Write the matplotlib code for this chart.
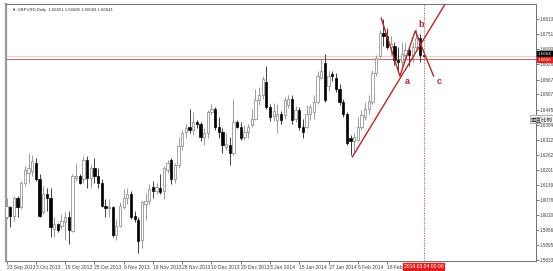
#!/usr/bin/env python3

import numpy as np
import matplotlib.pyplot as plt
from matplotlib.transforms import blended_transform_factory

# daily GBPUSD bars, 23 Sep 2013 .. 4 Mar 2014
opens = [1.6007, 1.6047, 1.6014, 1.6087, 1.6047, 1.6147, 1.6187, 1.6194, 1.6228, 1.6161,
         1.6027, 1.6101, 1.6087, 1.5960, 1.5978, 1.5973, 1.5987, 1.6007, 1.5953, 1.6167,
         1.6174, 1.6161, 1.6241, 1.6167, 1.6207, 1.6174, 1.6147, 1.6054, 1.6043, 1.6047,
         1.5933, 1.5973, 1.6047, 1.6087, 1.6101, 1.6014, 1.5996, 1.5914, 1.6061, 1.6074,
         1.6128, 1.6114, 1.6124, 1.6114, 1.6201, 1.6241, 1.6161, 1.6221, 1.6295, 1.6352,
         1.6375, 1.6362, 1.6395, 1.6388, 1.6335, 1.6348, 1.6435, 1.6448, 1.6375, 1.6355,
         1.6291, 1.6301, 1.6268, 1.6395, 1.6375, 1.6335, 1.6355, 1.6382, 1.6408, 1.6482,
         1.6502, 1.6555, 1.6455, 1.6420, 1.6401, 1.6428, 1.6422, 1.6462, 1.6488, 1.6408,
         1.6442, 1.6375, 1.6375, 1.6428, 1.6435, 1.6475, 1.6575, 1.6635, 1.6542, 1.6589,
         1.6575, 1.6528, 1.6475, 1.6428, 1.6328, 1.6315, 1.6322, 1.6375, 1.6415, 1.6448,
         1.6475, 1.6595, 1.6662, 1.6755, 1.6745, 1.6700, 1.6705, 1.6645, 1.6640, 1.6665,
         1.6688, 1.6665, 1.6700, 1.6735, 1.66651]
highs = [1.6087, 1.6054, 1.6094, 1.6094, 1.6154, 1.6214, 1.6268, 1.6261, 1.6248, 1.6181,
         1.6134, 1.6127, 1.6127, 1.6007, 1.5985, 1.6020, 1.6027, 1.6034, 1.6181, 1.6228,
         1.6181, 1.6254, 1.6254, 1.6221, 1.6248, 1.6207, 1.6161, 1.6080, 1.6080, 1.6054,
         1.6000, 1.6067, 1.6121, 1.6127, 1.6114, 1.6034, 1.6007, 1.6074, 1.6107, 1.6141,
         1.6154, 1.6148, 1.6181, 1.6214, 1.6241, 1.6248, 1.6228, 1.6335, 1.6362, 1.6388,
         1.6448, 1.6435, 1.6402, 1.6395, 1.6368, 1.6442, 1.6468, 1.6455, 1.6415, 1.6368,
         1.6348, 1.6335, 1.6489, 1.6402, 1.6395, 1.6382, 1.6388, 1.6448, 1.6529, 1.6535,
         1.6582, 1.6622, 1.6468, 1.6470, 1.6468, 1.6440, 1.6495, 1.6505, 1.6502, 1.6460,
         1.6455, 1.6408, 1.6462, 1.6468, 1.6502, 1.6602, 1.6649, 1.6669, 1.6600, 1.6602,
         1.6595, 1.6549, 1.6488, 1.6435, 1.6341, 1.6350, 1.6415, 1.6442, 1.6475, 1.6502,
         1.6605, 1.6665, 1.6768, 1.6815, 1.6775, 1.6745, 1.6720, 1.6700, 1.6720, 1.6715,
         1.6700, 1.6718, 1.6772, 1.6750, 1.66685]
lows = [1.6000, 1.5967, 1.5993, 1.6007, 1.6040, 1.6134, 1.6147, 1.6174, 1.6154, 1.6007,
        1.6020, 1.6034, 1.5927, 1.5927, 1.5947, 1.5960, 1.5913, 1.5900, 1.5947, 1.6154,
        1.6141, 1.6147, 1.6127, 1.6127, 1.6147, 1.6127, 1.6047, 1.6007, 1.6007, 1.5927,
        1.5913, 1.5967, 1.6040, 1.6060, 1.6000, 1.5987, 1.5860, 1.5880, 1.5994, 1.6061,
        1.6087, 1.6101, 1.6101, 1.6081, 1.6188, 1.6141, 1.6148, 1.6208, 1.6281, 1.6328,
        1.6348, 1.6341, 1.6368, 1.6315, 1.6301, 1.6328, 1.6428, 1.6362, 1.6328, 1.6268,
        1.6281, 1.6221, 1.6261, 1.6368, 1.6321, 1.6321, 1.6328, 1.6375, 1.6402, 1.6462,
        1.6489, 1.6448, 1.6400, 1.6400, 1.6350, 1.6388, 1.6408, 1.6450, 1.6388, 1.6395,
        1.6361, 1.6328, 1.6368, 1.6401, 1.6408, 1.6468, 1.6569, 1.6475, 1.6522, 1.6562,
        1.6515, 1.6462, 1.6415, 1.6301, 1.6261, 1.6268, 1.6315, 1.6361, 1.6402, 1.6428,
        1.6468, 1.6582, 1.6655, 1.6705, 1.6690, 1.6665, 1.6625, 1.6598, 1.6615, 1.6650,
        1.6620, 1.6640, 1.6690, 1.6640, 1.66583]
closes = [1.6054, 1.6010, 1.6087, 1.6050, 1.6147, 1.6201, 1.6207, 1.6234, 1.6161, 1.6014,
          1.6101, 1.6087, 1.5967, 1.5978, 1.5956, 1.5993, 1.6007, 1.5956, 1.6174, 1.6174,
          1.6147, 1.6241, 1.6167, 1.6207, 1.6174, 1.6147, 1.6054, 1.6044, 1.6047, 1.5933,
          1.5973, 1.6054, 1.6087, 1.6101, 1.6007, 1.6000, 1.5910, 1.6067, 1.6074, 1.6121,
          1.6114, 1.6128, 1.6111, 1.6208, 1.6228, 1.6161, 1.6221, 1.6295, 1.6348, 1.6368,
          1.6362, 1.6395, 1.6388, 1.6335, 1.6348, 1.6435, 1.6448, 1.6375, 1.6355, 1.6299,
          1.6304, 1.6268, 1.6395, 1.6375, 1.6328, 1.6355, 1.6375, 1.6408, 1.6482, 1.6502,
          1.6569, 1.6455, 1.6415, 1.6440, 1.6428, 1.6402, 1.6482, 1.6488, 1.6401, 1.6442,
          1.6375, 1.6355, 1.6428, 1.6455, 1.6475, 1.6582, 1.6602, 1.6482, 1.6582, 1.6582,
          1.6528, 1.6475, 1.6428, 1.6308, 1.6315, 1.6335, 1.6375, 1.6421, 1.6448, 1.6478,
          1.6595, 1.6655, 1.6755, 1.6745, 1.6700, 1.6710, 1.6645, 1.6640, 1.6670, 1.6685,
          1.6665, 1.6700, 1.6735, 1.6665, 1.66641]

date_labels = ["23 Sep 2013", "3 Oct 2013", "15 Oct 2013", "25 Oct 2013", "6 Nov 2013",
               "18 Nov 2013", "28 Nov 2013", "10 Dec 2013", "20 Dec 2013", "3 Jan 2014",
               "15 Jan 2014", "27 Jan 2014", "6 Feb 2014", "18 Feb 2014"]
price_ticks = [1.6813, 1.6751, 1.6690, 1.6628, 1.6567, 1.6507, 1.6445, 1.6384, 1.6322,
               1.6262, 1.6201, 1.6139, 1.6078, 1.6018, 1.5956, 1.5895, 1.5833]

# hand drawn abc lines (bar index, price)
wave_x = [102.4, 107.5, 111.7, 116.7]
wave_y = [1.6816, 1.6581, 1.6765, 1.6581]
trend_x = [94.5, 119.7]
trend_y = [1.6252, 1.6870]
wave_names = ["a", "b", "c"]
wave_label_x = [109.5, 113.3, 118.3]
wave_label_y = [1.6558, 1.6789, 1.6558]

hline_price = 1.6650
bid_price = 1.66641
cursor_bar = 114
cursor_text = "2014.03.04 00:00"
title = "\u25bc GBPUSD,Daily  1.66651 1.66685 1.66583 1.66641"

plt.rcParams['font.family'] = ['Liberation Sans', 'DejaVu Sans']

o = np.array(opens)
h = np.array(highs)
l = np.array(lows)
c = np.array(closes)
x = np.arange(len(o))
bull = c >= o

fig = plt.figure(figsize=(5.53, 2.71), dpi=100)
ax = fig.add_axes([5.5 / 553, 10 / 271, 530.5 / 553, 257 / 271])
ax.set_xlim(-0.3, 144.7)
ax.set_ylim(1.5829, 1.6874)

# horizontal line + bid
ax.axhline(hline_price, color='#c07070', lw=0.8, zorder=1)
ax.axhline(bid_price, color='#e8c8c8', lw=0.6, zorder=1)

wick_col = np.where(bull, '#8a8a8a', '#202020')
ax.vlines(x, l, h, colors=wick_col, lw=0.6, zorder=2)
body = np.maximum(np.abs(c - o), 0.00008)
ax.bar(x, body, bottom=np.minimum(o, c), width=0.62,
       color=np.where(bull, 'white', 'black'),
       edgecolor=np.where(bull, '#808080', 'black'), linewidth=0.5, zorder=3)

# abc pattern
ax.plot(trend_x, trend_y, color='#b02a2a', lw=1.0, zorder=4)
ax.plot(wave_x, wave_y, color='#b02a2a', lw=1.0, zorder=4)
for name, lx, ly in zip(wave_names, wave_label_x, wave_label_y):
    ax.text(lx, ly, name, color='#b02a2a', fontsize=6.5, fontweight='bold',
            ha='center', va='center', zorder=5)

# crosshair
ax.axvline(cursor_bar, color='#c04848', lw=0.6, ls=(0, (1.5, 1.5)), zorder=4)

ax.text(7 / 530.5, 1 - 4 / 257, title, transform=ax.transAxes, fontsize=3.1,
        color='#303030', ha='left', va='top')

# axes
ax.set_xticks(np.arange(len(date_labels)) * 8)
ax.set_xticklabels(date_labels, ha='left')
ax.yaxis.tick_right()
ax.set_yticks(price_ticks)
ax.set_yticklabels(['%.4f' % p for p in price_ticks])
ax.tick_params(axis='x', length=2, width=0.5, pad=1, labelsize=3.6, colors='#404040')
ax.tick_params(axis='y', length=2, width=0.5, pad=0.8, labelsize=3.3, colors='#404040')
for side in ['top', 'bottom', 'right']:
    ax.spines[side].set_color('#707070')
    ax.spines[side].set_linewidth(0.7)
ax.spines['left'].set_color('#9a9a9a')
ax.spines['left'].set_linewidth(1.6)

# price boxes on the right
ax.annotate('%.4f' % bid_price, xy=(1.0, bid_price), xycoords=('axes fraction', 'data'),
            xytext=(1.5, 1.5), textcoords='offset points', fontsize=3.2, color='white',
            va='center', ha='left',
            bbox=dict(boxstyle='square,pad=0.15', fc='black', ec='black'))
ax.annotate('%.4f' % hline_price, xy=(1.0, hline_price), xycoords=('axes fraction', 'data'),
            xytext=(1.5, -0.5), textcoords='offset points', fontsize=3.2, color='white',
            va='center', ha='left',
            bbox=dict(boxstyle='square,pad=0.15', fc='#e02020', ec='#e02020'))

# date box of the crosshair
tr = blended_transform_factory(ax.transData, ax.transAxes)
ax.text(cursor_bar, -0.012, cursor_text, transform=tr, fontsize=3.6, color='white',
        ha='center', va='top', zorder=6,
        bbox=dict(boxstyle='square,pad=0.2', fc='#e02020', ec='#e02020'))

fig.text(531 / 553, 1 - 119 / 271, '垂直比例', fontsize=4.0, color='#303030',
         family=['Noto Sans CJK SC', 'DejaVu Sans'], ha='left', va='center',
         bbox=dict(boxstyle='square,pad=0.2', fc='#f4f4f4', ec='#909090', lw=0.5))

fig.savefig('out.png', dpi=100)
